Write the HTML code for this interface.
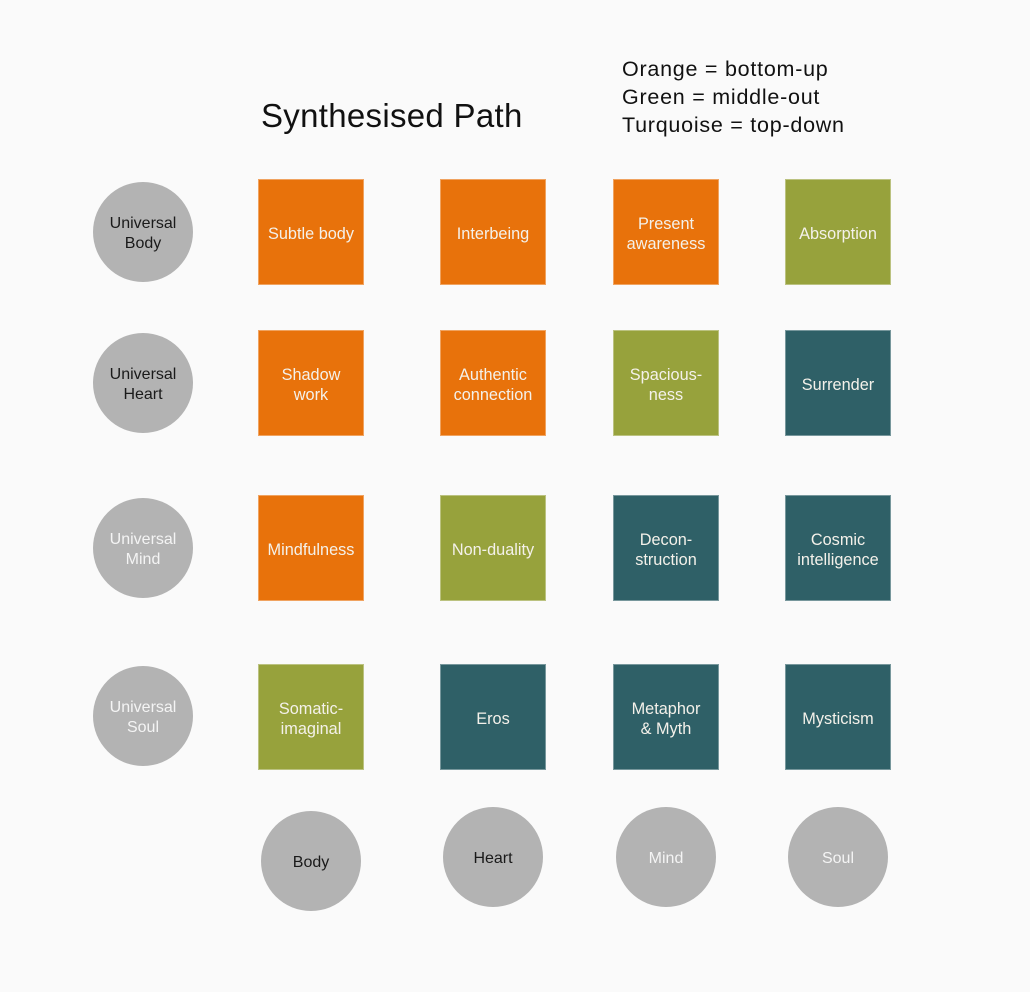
<!DOCTYPE html>
<html>
<head>
<meta charset="utf-8">
<style>
  html,body{margin:0;padding:0;}
  body{width:1030px;height:992px;background:#fafafa;position:relative;overflow:hidden;font-family:"Liberation Sans",Arial,sans-serif;}
  .title{position:absolute;left:261px;top:96px;font-size:33px;line-height:40px;color:#111;white-space:nowrap;letter-spacing:0.3px;}
  .legend{position:absolute;left:622px;top:56px;font-size:21.5px;line-height:27.8px;color:#111;white-space:nowrap;letter-spacing:0.75px;}
  .sq{position:absolute;width:104px;height:100px;padding-top:4px;border:1px solid rgba(255,255,255,0.35);display:flex;align-items:center;justify-content:center;text-align:center;font-size:16.3px;line-height:20px;color:#f4f1ea;box-sizing:content-box;}
  .o{background:#e8720b;}
  .g{background:#97a23c;}
  .t{background:#2f6067;}
  .c{position:absolute;width:100px;height:96px;padding-top:4px;border-radius:50%;background:#b3b3b3;display:flex;align-items:center;justify-content:center;text-align:center;font-size:16px;line-height:20px;}
  .dk{color:#1a1a1a;}
  .wh{color:#f4f4f4;}
</style>
</head>
<body>
<div class="title">Synthesised Path</div>
<div class="legend">Orange = bottom-up<br>Green = middle-out<br>Turquoise = top-down</div>

<!-- left circles -->
<div class="c dk" style="left:93px;top:182px;">Universal<br>Body</div>
<div class="c dk" style="left:93px;top:333px;">Universal<br>Heart</div>
<div class="c wh" style="left:93px;top:498px;">Universal<br>Mind</div>
<div class="c wh" style="left:93px;top:666px;">Universal<br>Soul</div>

<!-- row 1 -->
<div class="sq o" style="left:258px;top:179px;">Subtle body</div>
<div class="sq o" style="left:440px;top:179px;">Interbeing</div>
<div class="sq o" style="left:613px;top:179px;">Present<br>awareness</div>
<div class="sq g" style="left:785px;top:179px;">Absorption</div>

<!-- row 2 -->
<div class="sq o" style="left:258px;top:330px;">Shadow<br>work</div>
<div class="sq o" style="left:440px;top:330px;">Authentic<br>connection</div>
<div class="sq g" style="left:613px;top:330px;">Spacious-<br>ness</div>
<div class="sq t" style="left:785px;top:330px;">Surrender</div>

<!-- row 3 -->
<div class="sq o" style="left:258px;top:495px;">Mindfulness</div>
<div class="sq g" style="left:440px;top:495px;">Non-duality</div>
<div class="sq t" style="left:613px;top:495px;">Decon-<br>struction</div>
<div class="sq t" style="left:785px;top:495px;">Cosmic<br>intelligence</div>

<!-- row 4 -->
<div class="sq g" style="left:258px;top:664px;">Somatic-<br>imaginal</div>
<div class="sq t" style="left:440px;top:664px;">Eros</div>
<div class="sq t" style="left:613px;top:664px;">Metaphor<br>&amp; Myth</div>
<div class="sq t" style="left:785px;top:664px;">Mysticism</div>

<!-- bottom circles -->
<div class="c dk" style="left:261px;top:811px;">Body</div>
<div class="c dk" style="left:443px;top:807px;">Heart</div>
<div class="c wh" style="left:616px;top:807px;">Mind</div>
<div class="c wh" style="left:788px;top:807px;">Soul</div>
</body>
</html>
